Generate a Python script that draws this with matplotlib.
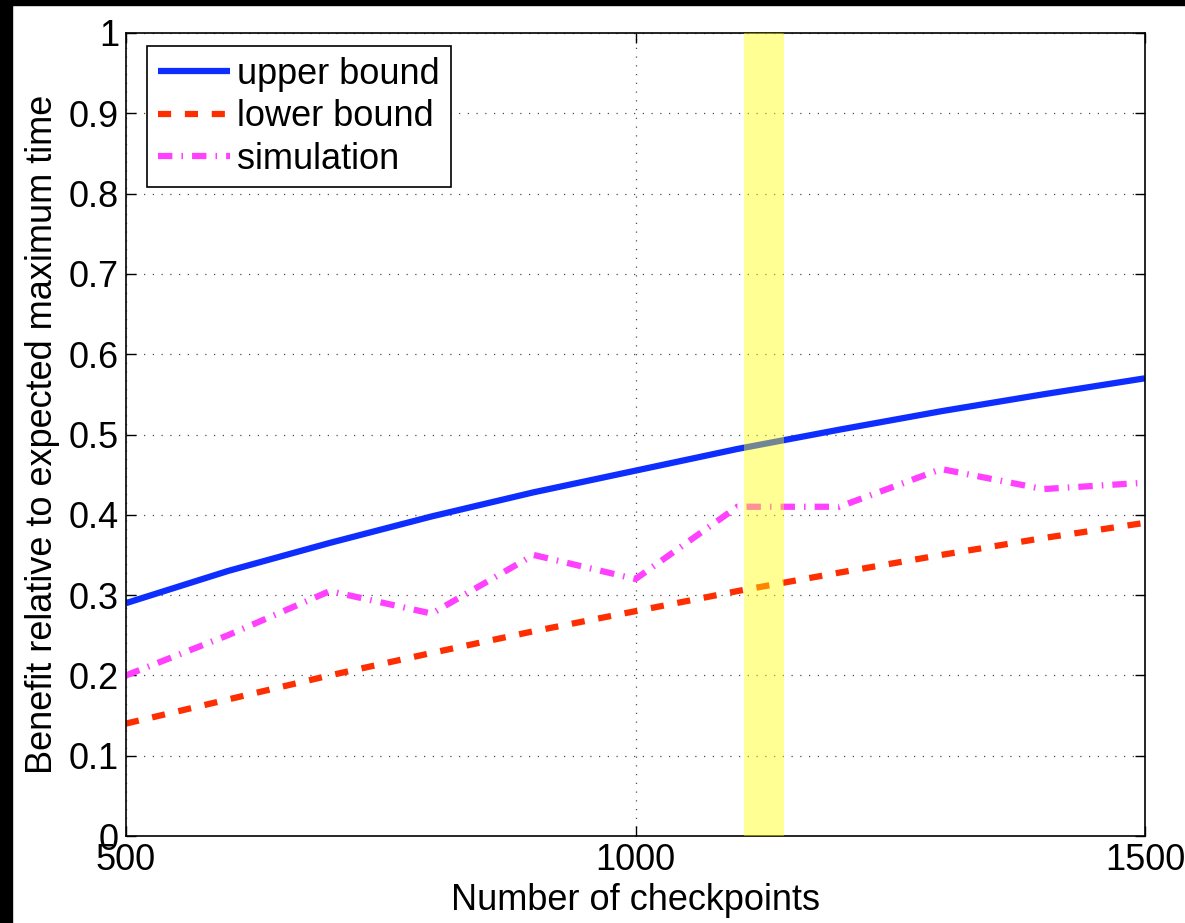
import matplotlib
matplotlib.use('Agg')
import matplotlib.pyplot as plt
from matplotlib.patches import Rectangle

# values
checkpoints = [500, 600, 700, 800, 900, 1000, 1100, 1200, 1300, 1400, 1500]
upper_bound = [0.29, 0.33, 0.365, 0.398, 0.428, 0.455, 0.482, 0.506, 0.529, 0.550, 0.570]
lower_bound = [0.14, 0.17, 0.20, 0.228, 0.255, 0.28, 0.305, 0.328, 0.350, 0.371, 0.39]
simulation = [0.20, 0.25, 0.305, 0.277, 0.35, 0.32, 0.41, 0.41, 0.457, 0.432, 0.44]
highlight = (1106, 1146)

x_ticks = [500, 1000, 1500]
y_ticks = [0, 0.1, 0.2, 0.3, 0.4, 0.5, 0.6, 0.7, 0.8, 0.9, 1]
y_tick_labels = ['0', '0.1', '0.2', '0.3', '0.4', '0.5', '0.6', '0.7', '0.8', '0.9', '1']

plt.rcParams['font.family'] = ['Liberation Sans', 'DejaVu Sans']
fs = 26

fig = plt.figure(figsize=(11.85, 9.23), dpi=100)
ax = fig.add_axes([126 / 1185, 1 - 836 / 923, (1145 - 126) / 1185, (836 - 33) / 923])

ax.plot(checkpoints, upper_bound, color=(0.05, 0.18, 1.0), lw=4.5,
        solid_capstyle='butt', label='upper bound')
ax.plot(checkpoints, lower_bound, color=(1.0, 0.18, 0.0), lw=4.5,
        linestyle=(0, (2.1, 2.2)), dash_capstyle='butt', label='lower bound')
ax.plot(checkpoints, simulation, color=(1.0, 0.25, 1.0), lw=4.5,
        linestyle=(0, (2.3, 1.45, 0.25, 1.45)), dash_capstyle='butt', label='simulation')

# yellow marker band drawn over the lines
ax.axvspan(highlight[0], highlight[1], color=(1.0, 1.0, 0.0), alpha=0.42, lw=0, zorder=5)

ax.set_xlim(500, 1500)
ax.set_ylim(0, 1)
ax.set_xticks(x_ticks)
ax.set_xticklabels([str(t) for t in x_ticks], fontsize=fs)
ax.set_yticks(y_ticks)
ax.set_yticklabels(y_tick_labels, fontsize=fs)
ax.tick_params(direction='in', length=7, width=1, top=True, right=True, pad=5)

ax.grid(True, linestyle=(0, (1, 6)), color='0.3', lw=0.9)

for s in ax.spines.values():
    s.set_linewidth(1.2)

ax.set_xlabel('Number of checkpoints', fontsize=fs, labelpad=4)
ax.set_ylabel('Benefit relative to expected maximum time', fontsize=fs, labelpad=6)

leg = ax.legend(loc='upper left', fontsize=fs, fancybox=False, framealpha=1,
                edgecolor='black', handlelength=2.0, handletextpad=0.2,
                labelspacing=0.2, borderpad=0.3, borderaxespad=0.5,
                bbox_to_anchor=(0.003, 1.006))
leg.get_frame().set_linewidth(1.2)

# black strips at the left and top edge of the screenshot
fig.add_artist(Rectangle((0, 0), 12 / 1185, 1, transform=fig.transFigure,
                         color='black', zorder=10))
fig.add_artist(Rectangle((0, 1 - 5 / 923), 1, 5 / 923, transform=fig.transFigure,
                         color='black', zorder=10))

fig.savefig('out.png', dpi=100)
